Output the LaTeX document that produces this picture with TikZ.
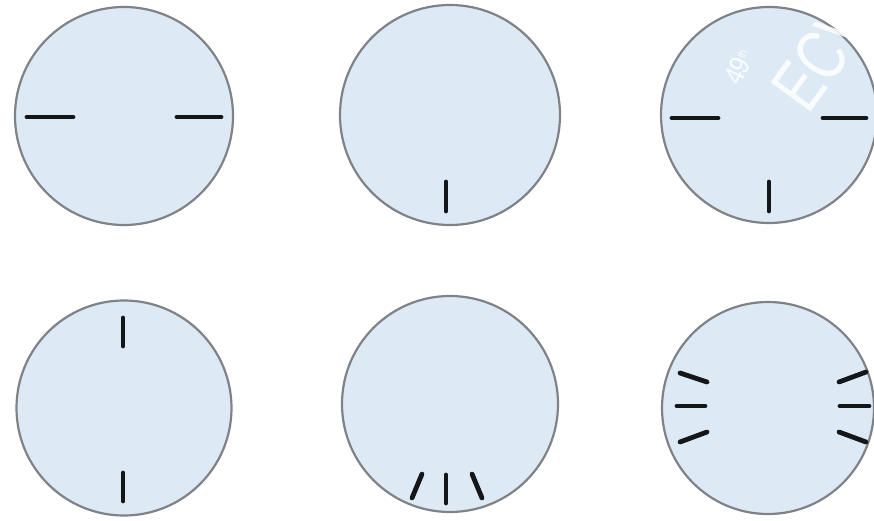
\documentclass[tikz,border=0pt]{standalone}
\usepackage{fontspec}
\setmainfont{Liberation Sans}
\definecolor{dialfill}{HTML}{DDEAF6}
\definecolor{dialedge}{HTML}{7F8286}
\definecolor{tickcol}{HTML}{141619}
\begin{document}
\begin{tikzpicture}[x=1pt,y=-1pt,
  dial/.style={circle,draw=dialedge,line width=2.2pt,fill=dialfill,inner sep=0pt},
  tickmark/.style={draw=tickcol,line width=4.8pt,line cap=round},
  wm/.style={text=white,text opacity=0.85,inner sep=0pt}]
\useasboundingbox[fill=white] (0,0) rectangle (874,521);
% dials
\node[dial,minimum size=218pt] (c1) at (124,116) {};
\node[dial,minimum size=220pt] (c2) at (450,115) {};
\node[dial,minimum size=216pt] (c3) at (769,115) {};
\node[dial,minimum size=215pt] (c4) at (124,408) {};
\node[dial,minimum size=216pt] (c5) at (450,404) {};
\node[dial,minimum size=212pt] (c6) at (768,408) {};
% watermark text
\node[wm,rotate=64,font=\fontsize{28}{28}\selectfont\addfontfeature{FakeStretch=0.85}] (w1) at (739,67) {49\raisebox{0.55ex}{\fontsize{12}{12}\selectfont th}};
\node[wm,rotate=54,font=\fontsize{72}{72}\selectfont\addfontfeature{FakeStretch=0.75}, anchor=base west] (w2) at (808,116) {ECV};
% dial 1
\draw[tickmark] (27,117) -- (73,117);
\draw[tickmark] (177,117) -- (221,117);
% dial 2
\draw[tickmark] (446,182) -- (446,211);
% dial 3
\draw[tickmark] (672,118) -- (718,118);
\draw[tickmark] (823,118) -- (866,118);
\draw[tickmark] (769,182) -- (769,211);
% dial 4
\draw[tickmark] (123,318) -- (123,346);
\draw[tickmark] (123,473) -- (123,501);
% dial 5
\draw[tickmark] (422,474) -- (412,498);
\draw[tickmark] (446,475) -- (446,503);
\draw[tickmark] (472,474) -- (482,498);
% dial 6
\draw[tickmark] (680,373) -- (707,382);
\draw[tickmark] (677,406) -- (705,406);
\draw[tickmark] (680,442) -- (707,432);
\draw[tickmark] (839,382) -- (866,372);
\draw[tickmark] (840,406) -- (869,406);
\draw[tickmark] (839,432) -- (866,442);
\end{tikzpicture}
\end{document}
